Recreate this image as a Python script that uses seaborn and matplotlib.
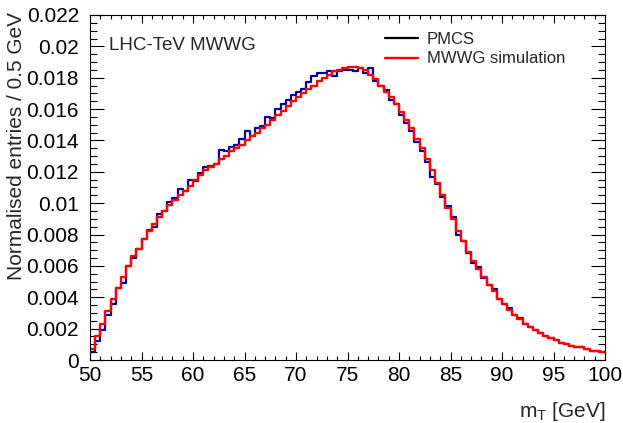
import numpy as np
import pandas as pd
import matplotlib
matplotlib.use("Agg")
import matplotlib.pyplot as plt
import matplotlib.ticker as mticker
from matplotlib.lines import Line2D
import seaborn as sns

# bin edges: 100 bins of 0.5 GeV from 50 to 100
edges = [50 + 0.5 * i for i in range(101)]

# PMCS (blue)
pmcs = [0.0005, 0.0012, 0.0019, 0.0029, 0.0036, 0.0046, 0.0049, 0.0060, 0.0065, 0.0071,
        0.0077, 0.0083, 0.0085, 0.0093, 0.0095, 0.0101, 0.0103, 0.0109, 0.0108, 0.0115,
        0.0114, 0.0119, 0.0123, 0.0124, 0.0125, 0.0134, 0.0133, 0.0136, 0.0137, 0.0141,
        0.0146, 0.0143, 0.0148, 0.0149, 0.0155, 0.0154, 0.0160, 0.0163, 0.0166, 0.0169,
        0.0171, 0.0173, 0.0177, 0.0181, 0.0183, 0.0183, 0.0184, 0.0181, 0.0184, 0.0185,
        0.0185, 0.0184, 0.0186, 0.0183, 0.0186, 0.0178, 0.0175, 0.0172, 0.0166, 0.0163,
        0.0156, 0.0151, 0.0146, 0.0139, 0.0133, 0.0126, 0.0117, 0.0112, 0.0104, 0.0098,
        0.0091, 0.0080, 0.0076, 0.0068, 0.0062, 0.0059, 0.0052, 0.0048, 0.0045, 0.0039,
        0.0036, 0.0033, 0.0029, 0.0027, 0.0023, 0.0021, 0.0019, 0.0017, 0.0015, 0.0014,
        0.0013, 0.0011, 0.0010, 0.0009, 0.0008, 0.0008, 0.0007, 0.0006, 0.0006, 0.0005]

# MWWG simulation (red)
mwwg = [0.0007, 0.0015, 0.0023, 0.0031, 0.0039, 0.0046, 0.0053, 0.0060, 0.0066, 0.0071,
        0.0077, 0.0082, 0.0087, 0.0091, 0.0095, 0.0099, 0.0102, 0.0105, 0.0108, 0.0111,
        0.0115, 0.0118, 0.0121, 0.0123, 0.0125, 0.0128, 0.0130, 0.0133, 0.0135, 0.0137,
        0.0140, 0.0143, 0.0145, 0.0148, 0.0150, 0.0153, 0.0156, 0.0159, 0.0162, 0.0165,
        0.0168, 0.0170, 0.0173, 0.0175, 0.0178, 0.0180, 0.0182, 0.0184, 0.0185, 0.0186,
        0.0187, 0.0187, 0.0186, 0.0185, 0.0182, 0.0179, 0.0175, 0.0171, 0.0168, 0.0163,
        0.0158, 0.0153, 0.0148, 0.0141, 0.0135, 0.0128, 0.0121, 0.0113, 0.0105, 0.0097,
        0.0090, 0.0082, 0.0076, 0.0069, 0.0063, 0.0058, 0.0053, 0.0048, 0.0044, 0.0039,
        0.0036, 0.0032, 0.0029, 0.0026, 0.0023, 0.0021, 0.0019, 0.0017, 0.0015, 0.0014,
        0.0013, 0.0011, 0.0010, 0.0009, 0.0008, 0.0008, 0.0007, 0.0006, 0.0006, 0.0005]

centers = [(a + b) / 2 for a, b in zip(edges[:-1], edges[1:])]
df = pd.DataFrame({"mT": centers, "pmcs": pmcs, "mwwg": mwwg})

sns.set_style("ticks")
plt.rcParams["font.family"] = ["Liberation Sans", "DejaVu Sans"]
plt.rcParams["mathtext.default"] = "regular"

fig = plt.figure(figsize=(6.23, 4.23), dpi=100)
ax = fig.add_axes([90 / 623, 63 / 423, 515 / 623, 345 / 423])

sns.histplot(data=df, x="mT", weights="pmcs", bins=edges, element="step", fill=False,
             color="#00009a", linewidth=1.6, ax=ax)
sns.histplot(data=df, x="mT", weights="mwwg", bins=edges, element="step", fill=False,
             color="#ff0000", linewidth=1.7, ax=ax)

ax.set_xlim(50, 100)
ax.set_ylim(0, 0.022)
ax.set_xlabel("")
ax.set_ylabel("")

# ROOT-like ticks
ax.xaxis.set_major_locator(mticker.MultipleLocator(5))
ax.xaxis.set_minor_locator(mticker.MultipleLocator(1))
ax.yaxis.set_major_locator(mticker.MultipleLocator(0.002))
ax.yaxis.set_minor_locator(mticker.MultipleLocator(0.0005))
ax.yaxis.set_major_formatter(mticker.FuncFormatter(lambda v, p: f"{round(v, 6):g}"))
ax.tick_params(which="both", direction="in", top=True, right=True, width=0.8, colors="black")
ax.tick_params(axis="x", which="major", length=6, labelsize=15, pad=4)
ax.tick_params(axis="x", which="minor", length=3)
ax.tick_params(axis="y", which="major", length=10, labelsize=15, pad=8)
ax.tick_params(axis="y", which="minor", length=5)
for s in ax.spines.values():
    s.set_linewidth(0.8)
    s.set_color("black")

fig.text(17 / 623, 1 - 12 / 423, "Normalised entries / 0.5 GeV", rotation=90,
         ha="center", va="top", fontsize=15)
fig.text(606 / 623, 1 - 411 / 423, "m$_{T}$ [GeV]", ha="right", va="center", fontsize=15)

ax.text(0.037, 0.913, "LHC-TeV MWWG", transform=ax.transAxes, ha="left", va="center",
        fontsize=13.5)

handles = [Line2D([], [], color="black", lw=1.6), Line2D([], [], color="#ff0000", lw=1.7)]
ax.legend(handles, ["PMCS", "MWWG simulation"], loc="upper left",
          bbox_to_anchor=(0.573, 0.95), frameon=False, fontsize=12, handlelength=2.0,
          handletextpad=0.5, labelspacing=0.25, borderpad=0, borderaxespad=0)

fig.savefig("out.png", dpi=100)
